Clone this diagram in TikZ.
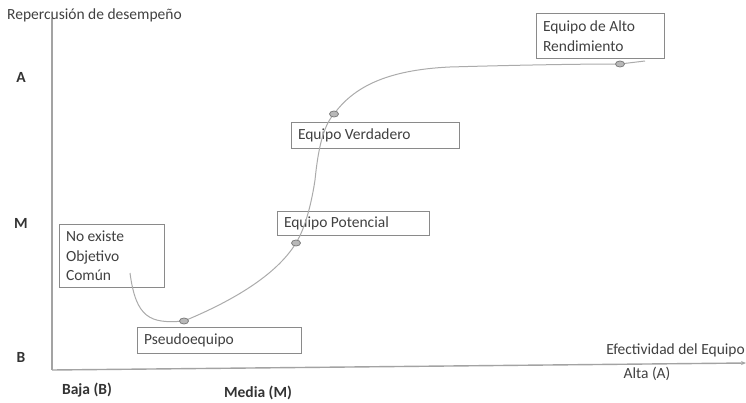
\documentclass[tikz,border=0pt]{standalone}
\usepackage{fontspec}
\setmainfont{Carlito}
\usetikzlibrary{shapes.geometric,arrows.meta}
\definecolor{axisgray}{HTML}{A3A3A3}
\definecolor{curvegray}{HTML}{ABABAB}
\definecolor{boxgray}{HTML}{8A8A8A}
\definecolor{ink}{HTML}{404040}
\begin{document}
\begin{tikzpicture}[x=1pt,y=-1pt,
  lbl/.style={font=\fontsize{15.5}{19.5}\selectfont, text=ink, inner sep=0pt},
  blbl/.style={lbl, font=\fontsize{15.5}{19.5}\selectfont\bfseries, text=black!80},
  tbox/.style={draw=boxgray, line width=1pt, anchor=north west,
    align=flush left, inner xsep=6.5pt, inner ysep=2pt,
    font=\fontsize{15.5}{19.5}\selectfont, text=ink},
  marker/.style={ellipse, draw=black!50, fill=black!28, line width=0.8pt,
    minimum width=9pt, minimum height=6pt, inner sep=0pt},
  axisline/.style={draw=axisgray, line width=1.4pt},
  curveline/.style={draw=curvegray, line width=1pt}]
\useasboundingbox (0,0) rectangle (746,403);

% axes
\coordinate (ytop) at (52,18);
\coordinate (origin) at (52,370);
\coordinate (xend) at (746,363);
\draw[axisline] (ytop) -- (origin);
\draw[axisline, -{Stealth[length=5pt,width=4pt]}] (origin) -- (xend);

% axis titles and levels
\node[lbl, anchor=west] (ytitle) at (7,15) {Repercusión de desempeño};
\node[lbl, anchor=east] (xtitle) at (745,350) {Efectividad del Equipo};
\node[blbl] (ya) at (21,77) {A};
\node[blbl] (ym) at (21,223) {M};
\node[blbl] (yb) at (21,357) {B};
\node[blbl] (xb) at (87,390) {Baja (B)};
\node[blbl] (xm) at (258,393) {Media (M)};
\node[lbl] (xa) at (647,374) {Alta (A)};

% stage boxes (open, the curve runs across them)
\node[tbox, text width=92pt, minimum height=63pt] (noobj) at (59,224) {No existe\\Objetivo\\Común};
\node[tbox, text width=151pt, minimum height=26pt] (pseudo) at (137,327) {Pseudoequipo};
\node[tbox, text width=139pt, minimum height=24pt] (potencial) at (277,211) {Equipo Potencial};
\node[tbox, text width=155pt, minimum height=26pt] (verdadero) at (291,122) {Equipo Verdadero};
\node[tbox, text width=115pt, minimum height=45pt] (alto) at (536,13) {Equipo de Alto\\Rendimiento};

% curve through the stages
\coordinate (cstart) at (130,273);
\coordinate (cend) at (645,61);
\draw[curveline] (cstart) .. controls (136,318) and (150,324) .. (184,321)
  .. controls (230,302) and (276,276) .. (296,243)
  .. controls (306,227) and (312,200) .. (315,180)
  .. controls (318,150) and (323,126) .. (334,114)
  .. controls (353,88) and (385,70) .. (450,67)
  .. controls (520,65) and (580,64) .. (620,64)
  -- (cend);

% points on the curve
\node[marker] (m1) at (184,321) {};
\node[marker] (m2) at (296,243) {};
\node[marker] (m3) at (334,114) {};
\node[marker] (m4) at (620,64) {};
\end{tikzpicture}
\end{document}
